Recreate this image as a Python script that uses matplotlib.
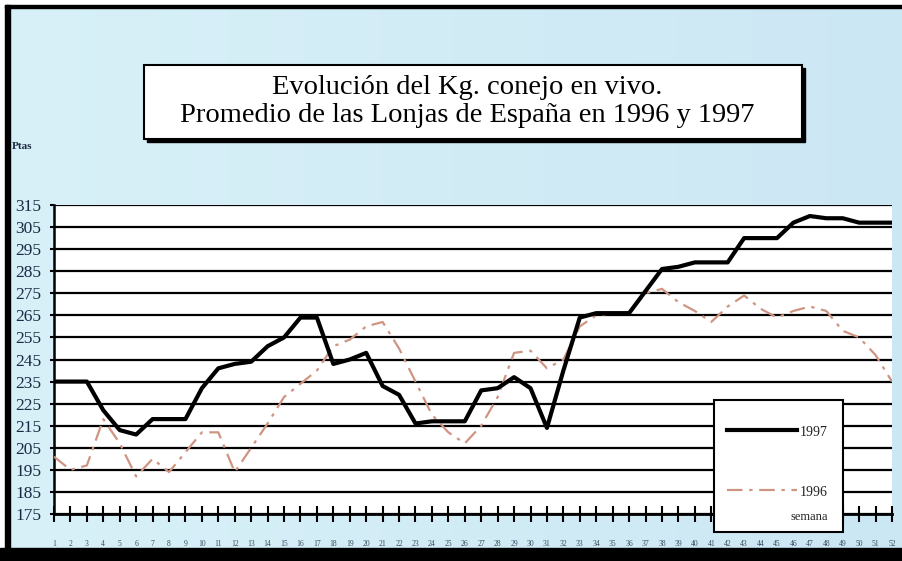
import numpy as np
import matplotlib
matplotlib.use("Agg")
import matplotlib.pyplot as plt
from matplotlib.patches import Rectangle
from matplotlib.lines import Line2D

# weekly average price (Ptas/kg)
weeks = list(range(1, 53))
price_1997 = [235, 235, 235, 222, 213, 211, 218, 218, 218, 232,
              241, 243, 244, 251, 255, 264, 264, 243, 245, 248,
              233, 229, 216, 217, 217, 217, 231, 232, 237, 232,
              214, 240, 264, 266, 266, 266, 276, 286, 287, 289,
              289, 289, 300, 300, 300, 307, 310, 309, 309, 307,
              307, 307]
price_1996 = [201, 195, 197, 218, 207, 192, 200, 194, 203, 212,
              212, 194, 205, 216, 228, 234, 240, 251, 254, 260,
              262, 250, 235, 220, 212, 207, 215, 228, 248, 249,
              241, 245, 260, 265, 266, 266, 275, 277, 271, 267,
              262, 269, 274, 268, 264, 267, 269, 267, 258, 255,
              247, 235]
yticks = list(range(175, 316, 10))

W, H = 903, 561
SERIF = "Liberation Serif"
SALMON = "#cf9482"

def fx(x):
    return x / W

def fy(y):
    return 1 - y / H

fig = plt.figure(figsize=(W / 100, H / 100), dpi=100, facecolor="white")

# light blue background, almost flat
bg = fig.add_axes([fx(5), fy(548), fx(903 - 5), (548 - 5) / H], zorder=-5)
grad = np.linspace(0, 1, 256).reshape(1, -1)
cmap = matplotlib.colors.LinearSegmentedColormap.from_list("bg", ["#d8f1f8", "#d2ecf6", "#cce7f4"])
bg.imshow(grad, aspect="auto", cmap=cmap, extent=[0, 1, 0, 1])
bg.set_axis_off()

# outer frame: left, top and heavy bottom band
fig.patches.append(Rectangle((fx(5), fy(548)), fx(5), (548 - 5) / H, transform=fig.transFigure,
                             color="black", zorder=10))
fig.patches.append(Rectangle((fx(5), fy(8)), 1, 3 / H, transform=fig.transFigure,
                             color="black", zorder=10))
fig.patches.append(Rectangle((0, 0), 1, 13 / H, transform=fig.transFigure,
                             color="black", zorder=10))

# main plot
ax = fig.add_axes([fx(54), fy(514), fx(892 - 54), (514 - 205) / H])
ax.set_facecolor("white")
ax.plot(weeks, price_1996, color=SALMON, lw=1.6, dashes=(7, 3, 1.5, 3), zorder=3)
ax.plot(weeks, price_1997, color="black", lw=3.0, solid_joinstyle="round", zorder=4)

ax.set_xlim(1, 52)
ax.set_ylim(175, 315)
ax.set_yticks(yticks)
ax.set_xticks(weeks)
ax.grid(axis="y", color="black", lw=1.6)
ax.set_axisbelow(True)

for s in ["top", "right"]:
    ax.spines[s].set_visible(False)
ax.spines["left"].set_linewidth(1.8)
ax.spines["bottom"].set_linewidth(2.0)

ax.tick_params(axis="y", direction="out", length=3, width=1.5, pad=6)
ax.tick_params(axis="x", direction="inout", length=12, width=1.5, pad=13)
for lab in ax.get_yticklabels():
    lab.set_fontfamily(SERIF)
    lab.set_fontsize(12.5)
    lab.set_color("#1a2a44")
for lab in ax.get_xticklabels():
    lab.set_fontfamily(SERIF)
    lab.set_fontsize(5.5)
    lab.set_color("#3a4a66")

# title box with shadow
fig.patches.append(Rectangle((fx(147), fy(142)), fx(802 - 144), (139 - 65) / H,
                             transform=fig.transFigure, color="black", zorder=5))
fig.patches.append(Rectangle((fx(144), fy(139)), fx(802 - 144), (139 - 65) / H,
                             transform=fig.transFigure, facecolor="white",
                             edgecolor="black", lw=1.5, zorder=6))
fig.text(fx(467), fy(88), "Evolución del Kg. conejo en vivo.", family=SERIF,
         fontsize=20.5, ha="center", va="center", zorder=7)
fig.text(fx(467), fy(116), "Promedio de las Lonjas de España en 1996 y 1997", family=SERIF,
         fontsize=20.5, ha="center", va="center", zorder=7)

fig.text(fx(12), fy(147), "Ptas", family=SERIF, fontsize=8, weight="bold",
         color="#1a2a44", ha="left", va="center")

# legend box
fig.patches.append(Rectangle((fx(714), fy(532)), fx(843 - 714), (532 - 400) / H,
                             transform=fig.transFigure, facecolor="white",
                             edgecolor="black", lw=1.5, zorder=8))
fig.add_artist(Line2D([fx(727), fx(797)], [fy(430), fy(430)], transform=fig.transFigure,
                      color="black", lw=3.0, zorder=9))
fig.add_artist(Line2D([fx(727), fx(797)], [fy(490), fy(490)], transform=fig.transFigure,
                      color=SALMON, lw=1.6, dashes=(7, 3, 1.5, 3), zorder=9))
fig.text(fx(800), fy(432), "1997", family=SERIF, fontsize=10, color="#222",
         ha="left", va="center", zorder=9)
fig.text(fx(800), fy(492), "1996", family=SERIF, fontsize=10, color="#222",
         ha="left", va="center", zorder=9)
fig.text(fx(828), fy(517), "semana", family=SERIF, fontsize=9, color="#222",
         ha="right", va="center", zorder=9)

fig.savefig("out.png", dpi=100, facecolor="white")
